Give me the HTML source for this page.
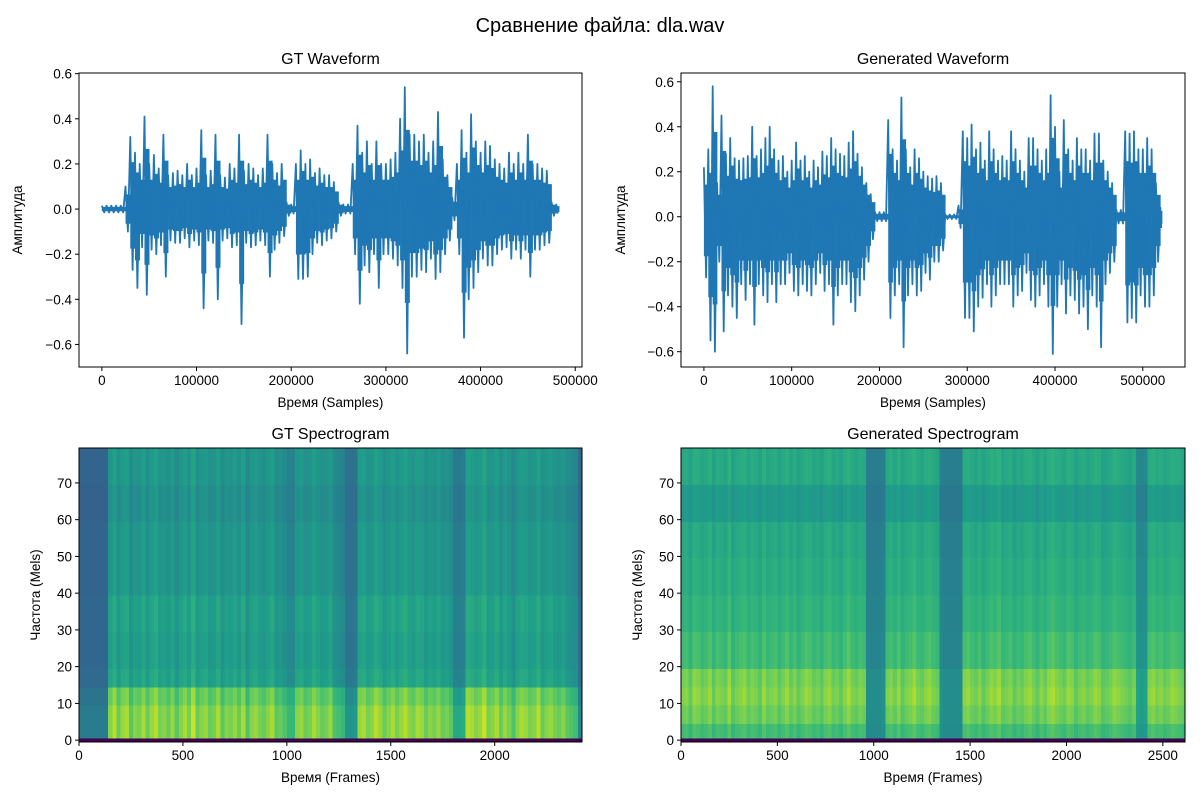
<!DOCTYPE html>
<html><head><meta charset="utf-8">
<style>
body{margin:0;background:#fff;}
svg text{font-family:"Liberation Sans","DejaVu Sans",sans-serif;fill:#000;}
</style></head>
<body>
<svg id="fig" width="1200" height="800" xmlns="http://www.w3.org/2000/svg">
<rect width="1200" height="800" fill="#fff"/>
<text x="600" y="32" font-size="20" text-anchor="middle">Сравнение файла: dla.wav</text>
</svg>
<script>
// ---- data ----
const gtBin = 5000;
const gtHi = [0.015,0.015,0.015,0.015,0.015,0.1,0.32,0.25,0.2,0.41,0.2,0.24,0.18,0.33,0.15,0.16,0.17,0.15,0.2,0.15,0.18,0.35,0.15,0.17,0.33,0.15,0.14,0.2,0.18,0.33,0.17,0.2,0.18,0.15,0.18,0.33,0.2,0.16,0.2,0.03,0.02,0.2,0.26,0.2,0.22,0.16,0.18,0.15,0.15,0.12,0.03,0.02,0.02,0.2,0.37,0.25,0.3,0.2,0.3,0.2,0.2,0.22,0.25,0.4,0.54,0.33,0.33,0.3,0.33,0.25,0.3,0.43,0.22,0.15,0.05,0.2,0.35,0.25,0.42,0.3,0.25,0.3,0.28,0.22,0.2,0.18,0.25,0.2,0.25,0.2,0.33,0.2,0.2,0.18,0.17,0.03,0.02];
const gtLo = [-0.015,-0.015,-0.015,-0.015,-0.015,-0.1,-0.27,-0.35,-0.17,-0.38,-0.18,-0.2,-0.16,-0.3,-0.14,-0.15,-0.15,-0.13,-0.17,-0.14,-0.16,-0.44,-0.14,-0.15,-0.4,-0.14,-0.13,-0.17,-0.16,-0.51,-0.15,-0.17,-0.16,-0.14,-0.16,-0.3,-0.18,-0.15,-0.12,-0.03,-0.02,-0.31,-0.31,-0.3,-0.2,-0.15,-0.16,-0.14,-0.13,-0.1,-0.03,-0.02,-0.02,-0.2,-0.42,-0.25,-0.28,-0.2,-0.35,-0.2,-0.2,-0.22,-0.25,-0.35,-0.64,-0.3,-0.3,-0.27,-0.28,-0.22,-0.31,-0.28,-0.2,-0.14,-0.05,-0.2,-0.57,-0.4,-0.35,-0.28,-0.22,-0.25,-0.25,-0.2,-0.18,-0.17,-0.22,-0.18,-0.22,-0.18,-0.3,-0.18,-0.18,-0.16,-0.15,-0.03,-0.02];
const genBin = 5000;
const genHi = [0.22,0.3,0.58,0.15,0.45,0.28,0.35,0.26,0.25,0.26,0.27,0.4,0.27,0.3,0.35,0.4,0.3,0.25,0.27,0.2,0.25,0.33,0.25,0.27,0.2,0.25,0.22,0.29,0.27,0.35,0.3,0.28,0.27,0.33,0.38,0.28,0.22,0.15,0.1,0.02,0.02,0.02,0.43,0.3,0.25,0.53,0.3,0.22,0.3,0.26,0.2,0.18,0.17,0.18,0.15,0.01,0.01,0.01,0.05,0.38,0.35,0.41,0.3,0.33,0.25,0.38,0.3,0.25,0.27,0.25,0.38,0.3,0.25,0.2,0.35,0.35,0.3,0.25,0.3,0.54,0.4,0.2,0.43,0.3,0.25,0.35,0.3,0.3,0.25,0.37,0.37,0.25,0.2,0.15,0.03,0.03,0.38,0.37,0.38,0.3,0.3,0.35,0.3,0.15,0.04];
const genLo = [-0.27,-0.55,-0.6,-0.2,-0.51,-0.35,-0.4,-0.45,-0.3,-0.37,-0.3,-0.48,-0.3,-0.35,-0.38,-0.3,-0.38,-0.3,-0.3,-0.25,-0.33,-0.35,-0.3,-0.33,-0.35,-0.3,-0.25,-0.33,-0.3,-0.48,-0.35,-0.3,-0.3,-0.38,-0.42,-0.35,-0.28,-0.2,-0.1,-0.02,-0.02,-0.02,-0.45,-0.35,-0.3,-0.58,-0.35,-0.3,-0.35,-0.33,-0.25,-0.28,-0.2,-0.2,-0.15,-0.01,-0.01,-0.01,-0.05,-0.45,-0.45,-0.51,-0.4,-0.36,-0.3,-0.4,-0.35,-0.3,-0.3,-0.3,-0.4,-0.35,-0.33,-0.25,-0.37,-0.4,-0.35,-0.3,-0.4,-0.61,-0.4,-0.3,-0.43,-0.35,-0.37,-0.43,-0.4,-0.5,-0.35,-0.4,-0.58,-0.3,-0.25,-0.2,-0.03,-0.03,-0.47,-0.45,-0.47,-0.35,-0.4,-0.4,-0.35,-0.2,-0.05];
const wfYTicks = [-0.6,-0.4,-0.2,0.0,0.2,0.4,0.6];
const wfYTickLabels = ["\u22120.6","\u22120.4","\u22120.2","0.0","0.2","0.4","0.6"];
const gtXTicks = [0,100000,200000,300000,400000,500000];
const genXTicks = [0,100000,200000,300000,400000,500000];

// spectrogram data
const colFrames = 20;
const gtCols = [0,0,0,0,0,0,0,0.8,0.95,0.7,0.85,0.9,0.65,0.8,0.75,0.9,0.7,0.85,0.95,0.75,0.8,0.7,0.85,0.65,0.8,0.9,0.75,1.0,0.7,0.8,0.85,0.7,0.75,0.9,0.65,0.8,0.75,0.85,0.7,0.9,0.6,0.8,0.85,0.75,0.7,0.8,0.9,0.65,0.7,0.6,0.5,0.5,0.8,0.85,0.7,0.75,0.9,0.8,0.7,0.75,0.85,0.6,0.55,0.5,0.2,0.2,0.25,0.85,0.9,0.75,0.8,0.95,0.85,0.7,0.8,0.9,0.75,0.85,0.95,0.8,0.75,0.9,0.85,0.7,0.8,0.75,0.85,0.7,0.75,0.65,0.35,0.35,0.4,0.95,0.9,0.8,0.85,1.0,0.75,0.8,0.9,0.7,0.85,0.75,0.6,0.8,0.9,0.85,0.75,0.8,0.95,0.7,0.8,0.85,0.75,0.7,0.8,0.65,0.6,0.55,0.1];
const genCols = [0.8,0.85,0.7,0.9,0.85,0.75,0.8,0.9,0.7,0.85,0.8,0.75,0.95,0.7,0.8,0.85,0.9,0.75,0.85,0.8,0.7,0.9,0.75,0.8,0.85,0.7,0.8,0.9,0.75,0.85,0.7,0.8,0.9,0.85,0.75,0.8,0.7,0.85,0.9,0.75,0.8,0.7,0.85,0.95,0.8,0.75,0.85,0.8,0.1,0.1,0.1,0.1,0.15,0.8,0.85,0.75,0.9,0.7,0.8,0.85,0.95,0.8,0.75,0.85,0.9,0.8,0.75,0.15,0.1,0.1,0.1,0.1,0.1,0.85,0.9,0.8,0.75,0.85,0.7,0.8,0.9,0.85,0.95,0.75,0.8,0.85,0.7,0.8,0.75,0.85,0.9,0.8,0.7,0.85,0.75,0.9,0.95,0.85,0.8,0.75,0.9,0.85,0.7,0.8,0.85,0.75,0.8,0.9,0.85,0.7,0.75,0.8,0.9,0.85,0.8,0.75,0.7,0.8,0.3,0.25,0.3,0.85,0.9,0.8,0.85,0.75,0.8,0.9,0.85,0.8,0.75];
const melEdges = [0,1,5,10,15,20,30,40,50,60,70,80];
const gtFloor = [0.0,0.42,0.42,0.38,0.34,0.33,0.33,0.32,0.32,0.31,0.32];
const gtGain  = [0.0,0.5,0.5,0.48,0.3,0.28,0.3,0.26,0.26,0.24,0.26];
const genFloor = [0.0,0.45,0.45,0.44,0.44,0.42,0.42,0.41,0.40,0.38,0.40];
const genGain  = [0.0,0.3,0.4,0.46,0.43,0.33,0.28,0.26,0.25,0.2,0.25];
const specYTicks = [0,10,20,30,40,50,60,70];
const gtSpecXTicks = [0,500,1000,1500,2000];
const genSpecXTicks = [0,500,1000,1500,2000,2500];

// ---- drawing ----
const NS = "http://www.w3.org/2000/svg";
const svg = document.getElementById('fig');
function mk(tag, attrs, parent){ const e=document.createElementNS(NS,tag); for(const k in attrs) e.setAttribute(k,attrs[k]); (parent||svg).appendChild(e); return e; }
function txt(s, attrs, parent){ const e=mk('text',attrs,parent); e.textContent=s; return e; }
const VIR=[[68,1,84],[72,40,120],[62,74,137],[49,104,142],[38,130,142],[31,158,137],[53,183,121],[109,205,89],[180,222,44],[253,231,37]];
function viridis(v){ v=Math.max(0,Math.min(1,v)); const p=v*(VIR.length-1); const i=Math.min(VIR.length-2,Math.floor(p)); const f=p-i; const a=VIR[i],b=VIR[i+1]; return 'rgb('+a.map((c,k)=>Math.round(c+(b[k]-c)*f)).join(',')+')'; }

function axesFrame(name, L,T,R,B, title, xlabel, ylabel, ylx){
  const g = mk('g',{});
  
  
  const t = txt(title,{x:(L+R)/2,y:T-9,'font-size':16,'text-anchor':'middle'},g);
  
  
  const xl = txt(xlabel,{x:(L+R)/2,y:B+40,'font-size':13.5,'text-anchor':'middle'},g);
  
  
  const cy=(T+B)/2;
  const yl = txt(ylabel,{x:ylx,y:cy,'font-size':13.5,'text-anchor':'middle',transform:'rotate(-90 '+ylx+' '+cy+')'},g);
  
  
  return g;
}
function spines(g,L,T,R,B){ const r=mk('rect',{x:L,y:T,width:R-L,height:B-T,fill:'none',stroke:'#000','stroke-width':1},g);   }
function xTicks(g,vals,labels,sx,B){ vals.forEach((v,i)=>{ const x=sx(v); mk('line',{x1:x,y1:B,x2:x,y2:B+4,stroke:'#000'},g); const t=txt(labels[i],{x:x,y:B+18,'font-size':13.5,'text-anchor':'middle'},g);   }); }
function yTicks(g,vals,labels,sy,L){ vals.forEach((v,i)=>{ const y=sy(v); mk('line',{x1:L-4,y1:y,x2:L,y2:y,stroke:'#000'},g); const t=txt(labels[i],{x:L-7,y:y+5,'font-size':13.5,'text-anchor':'end'},g);   }); }

function waveform(name,L,T,R,B,nSamples,ymin,ymax,bin,hi,lo,xt,title,ylx){
  const g=axesFrame(name,L,T,R,B,title,'Время (Samples)','Амплитуда',ylx);
  const x0=-0.05*nSamples, x1=1.05*nSamples;
  const sx=v=>L+(v-x0)/(x1-x0)*(R-L);
  const sy=v=>B-(v-ymin)/(ymax-ymin)*(B-T);
  const wg=mk('g',{},g);
  
  
  let d='';
  hi.forEach((h,i)=>{
    const xa=sx(i*bin), xb=sx(Math.min((i+1)*bin,nSamples));
    const body=mk('rect',{x:xa,y:sy(h*0.65),width:Math.max(0.5,xb-xa+0.3),height:Math.max(2,sy(lo[i]*0.65)-sy(h*0.65)),fill:'#1f77b4'},wg);
    
    
    const xm=(xa+xb)/2;
    d+=(i?'L':'M')+xa.toFixed(1)+','+sy(h).toFixed(1)+'L'+xm.toFixed(1)+','+sy(lo[i]).toFixed(1);
  });
  const p=mk('path',{d:d,fill:'none',stroke:'#1f77b4','stroke-width':1.8,'stroke-linejoin':'round'},wg);
  
  
  spines(g,L,T,R,B);
  xTicks(g,xt,xt.map(String),sx,B);
  yTicks(g,wfYTicks,wfYTickLabels,sy,L);
}

function spectro(name,L,T,R,B,nFrames,cols,floor,gain,xt,title,ylx){
  const g=axesFrame(name,L,T,R,B,title,'Время (Frames)','Частота (Mels)',ylx);
  const sx=v=>L+v/nFrames*(R-L);
  const sy=v=>B-(v+0.5)/80*(B-T);
  const hg=mk('g',{'shape-rendering':'crispEdges'},g);
  
  
  cols.forEach((c,i)=>{
    const xa=sx(i*colFrames), xb=sx(Math.min((i+1)*colFrames,nFrames));
    for(let r=0;r<floor.length;r++){
      const ya=sy(melEdges[r+1]-0.5), yb=sy(melEdges[r]-0.5);
      const cell=mk('rect',{x:xa.toFixed(2),y:ya.toFixed(2),width:(xb-xa+0.4).toFixed(2),height:(yb-ya+0.4).toFixed(2),fill:viridis(floor[r]+c*gain[r])},hg);
      
      
    }
  });
  spines(g,L,T,R,B);
  xTicks(g,xt,xt.map(String),sx,B);
  yTicks(g,specYTicks,specYTicks.map(String),sy,L);
}

waveform('gt-waveform',79,73,582,367,483000,-0.7,0.603,gtBin,gtHi,gtLo,gtXTicks,'GT Waveform',22);
waveform('generated-waveform',681,73,1185,367,522000,-0.668,0.639,genBin,genHi,genLo,genXTicks,'Generated Waveform',625);
spectro('gt-spectrogram',79,448,582,742,2420,gtCols,gtFloor,gtGain,gtSpecXTicks,'GT Spectrogram',40);
spectro('generated-spectrogram',681,448,1185,742,2615,genCols,genFloor,genGain,genSpecXTicks,'Generated Spectrogram',642);
</script>
</body></html>
